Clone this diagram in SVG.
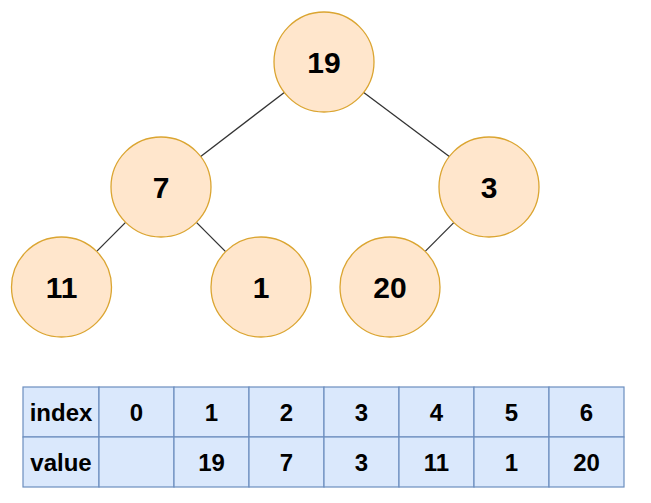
<svg xmlns="http://www.w3.org/2000/svg" width="651" height="503" viewBox="0 0 651 503">
<style>
.node circle{fill:#ffe6cc;stroke:#dba531;stroke-width:1.3}
.node text{font-family:"Liberation Sans",Arial,sans-serif;font-weight:bold;font-size:30px;fill:#000;text-anchor:middle;dominant-baseline:central}
.edges line{stroke:#333;stroke-width:1.3}
.cell rect{fill:#dae8fc;stroke:#6c8ebf;stroke-width:1.2}
.cell text{font-family:"Liberation Sans",Arial,sans-serif;font-weight:bold;font-size:24px;fill:#000;text-anchor:middle;dominant-baseline:central}
</style>
<rect width="651" height="503" fill="#fff"/>
<g class="edges">
<line x1="284.3" y1="92.4" x2="200.7" y2="156.6"/>
<line x1="363.7" y1="92.4" x2="449.3" y2="156.6"/>
<line x1="125.6" y1="222.4" x2="96.9" y2="251.1"/>
<line x1="196.4" y1="222.4" x2="225.6" y2="251.6"/>
<line x1="453.8" y1="222.6" x2="425.2" y2="251.4"/>
</g>
<g id="n19" class="node"><circle cx="324" cy="62" r="50"/><text x="324" y="62">19</text></g>
<g id="n7" class="node"><circle cx="161" cy="187" r="50"/><text x="161" y="187">7</text></g>
<g id="n3" class="node"><circle cx="489" cy="187" r="50"/><text x="489" y="187">3</text></g>
<g id="n11" class="node"><circle cx="61.5" cy="287" r="50"/><text x="61.5" y="287">11</text></g>
<g id="n1" class="node"><circle cx="261" cy="287" r="50"/><text x="261" y="287">1</text></g>
<g id="n20" class="node"><circle cx="390" cy="287" r="50"/><text x="390" y="287">20</text></g>
<g id="table">
<g class="cell"><rect x="23" y="387" width="76" height="50"/><text x="61" y="412">index</text></g>
<g class="cell"><rect x="99" y="387" width="75" height="50"/><text x="136.5" y="412">0</text></g>
<g class="cell"><rect x="174" y="387" width="75" height="50"/><text x="211.5" y="412">1</text></g>
<g class="cell"><rect x="249" y="387" width="75" height="50"/><text x="286.5" y="412">2</text></g>
<g class="cell"><rect x="324" y="387" width="75" height="50"/><text x="361.5" y="412">3</text></g>
<g class="cell"><rect x="399" y="387" width="75" height="50"/><text x="436.5" y="412">4</text></g>
<g class="cell"><rect x="474" y="387" width="75" height="50"/><text x="511.5" y="412">5</text></g>
<g class="cell"><rect x="549" y="387" width="75" height="50"/><text x="586.5" y="412">6</text></g>
<g class="cell"><rect x="23" y="437" width="76" height="50"/><text x="61" y="462">value</text></g>
<g class="cell"><rect x="99" y="437" width="75" height="50"/></g>
<g class="cell"><rect x="174" y="437" width="75" height="50"/><text x="211.5" y="462">19</text></g>
<g class="cell"><rect x="249" y="437" width="75" height="50"/><text x="286.5" y="462">7</text></g>
<g class="cell"><rect x="324" y="437" width="75" height="50"/><text x="361.5" y="462">3</text></g>
<g class="cell"><rect x="399" y="437" width="75" height="50"/><text x="436.5" y="462">11</text></g>
<g class="cell"><rect x="474" y="437" width="75" height="50"/><text x="511.5" y="462">1</text></g>
<g class="cell"><rect x="549" y="437" width="75" height="50"/><text x="586.5" y="462">20</text></g>
</g>
</svg>
